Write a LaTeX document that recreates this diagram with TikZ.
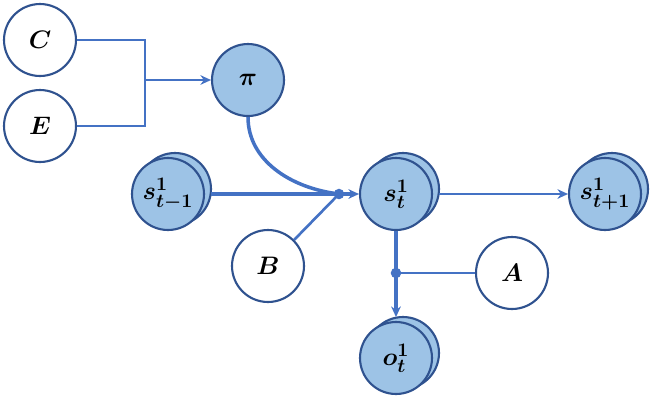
\documentclass[tikz,border=0pt]{standalone}
\usepackage{amsmath,bm}
\usetikzlibrary{arrows.meta}
\definecolor{edgeblue}{RGB}{47,82,143}
\definecolor{lineblue}{RGB}{68,114,196}
\definecolor{fillblue}{RGB}{157,195,230}
\tikzset{
	var/.style={circle, draw=edgeblue, line width=1.2pt, minimum size=1.44cm, inner sep=0pt, font=\fontsize{15.5}{18}\selectfont},
	hidden/.style={var, fill=fillblue},
	param/.style={var, fill=white},
	backdisc/.style={draw=edgeblue, fill=fillblue, line width=1.2pt},
	link/.style={draw=lineblue, line width=2pt},
	thinlink/.style={draw=lineblue, line width=1.5pt},
	tip/.style={-{Stealth[length=6pt, width=5.5pt]}},
	joint/.style={fill=lineblue, circle, inner sep=0pt, minimum size=6pt}
}

\begin{document}
\begin{tikzpicture}[x=0.02cm, y=-0.02cm]
		%%%%% START %%%%%
		\useasboundingbox (0, 0) rectangle (653, 400);
		
		% back discs of the stacked states
		\draw[backdisc] (175, 189) circle (0.72cm);
		\draw[backdisc] (403, 189) circle (0.72cm);
		\draw[backdisc] (612, 189) circle (0.72cm);
		\draw[backdisc] (403, 353) circle (0.72cm);
		
		\node[param] (C) at (40, 40) {$\bm{C}$};
		\node[param] (E) at (40, 126) {$\bm{E}$};
		\node[hidden] (pi) at (248, 80) {$\bm{\pi}$};
		
		\node[hidden] (sprev) at (168, 194) {$\bm{s^1_{t-1}}$};
		\node[hidden] (s) at (396, 194) {$\bm{s^1_t}$};
		\node[hidden] (snext) at (605, 194) {$\bm{s^1_{t+1}}$};
		\node[hidden] (o) at (396, 358) {$\bm{o^1_t}$};
		
		\node[param] (B) at (268, 266) {$\bm{B}$};
		\node[param] (A) at (512, 273) {$\bm{A}$};
		
		\coordinate (k) at (145, 80);
		\coordinate (j1) at (339, 194);
		\coordinate (j2) at (396, 273);
		\coordinate (sprev-out) at (211, 194);
		\coordinate (s-out) at (439, 194);
		\coordinate (o-in) at (396, 317);
		
		% prior preferences
		\draw[thinlink] (C.east) -| (k) |- (E.east);
		\draw[thinlink, tip] (k) -- (pi.west);
		
		% transitions
		\draw[link, tip] (sprev-out) -- (s.west);
		\draw[link] (pi.south) .. controls (248, 160) and (290, 188) .. (j1);
		\draw[thinlink] (B.45) -- (j1);
		\node[joint] at (j1) {};
		\draw[thinlink, tip] (s-out) -- (snext.west);
		
		% likelihood
		\draw[link, tip] (s.south) -- (o-in);
		\draw[thinlink] (j2) -- (A.west);
		\node[joint] at (j2) {};
		
		%%%%% END %%%%%
	\end{tikzpicture}
\end{document}
